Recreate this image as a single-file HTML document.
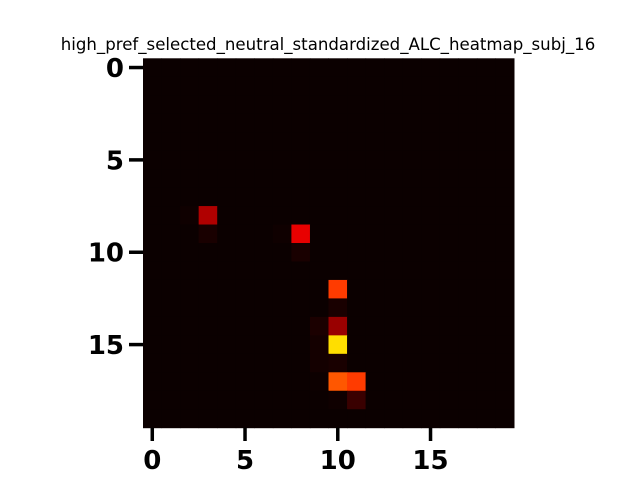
<!DOCTYPE html>
<html><head><meta charset="utf-8"><style>
body{margin:0;background:#fff;width:640px;height:480px;overflow:hidden}
svg text{font-family:"DejaVu Sans","Liberation Sans",sans-serif}
</style></head><body>
<svg id="chart" width="640" height="480" xmlns="http://www.w3.org/2000/svg">
<text x="328" y="50" text-anchor="middle" font-size="16.6">high_pref_selected_neutral_standardized_ALC_heatmap_subj_16</text>
<g id="cells"></g>
<g id="axes"></g>
</svg>
<script>
const rowLabels = [0,1,2,3,4,5,6,7,8,9,10,11,12,13,14,15,16,17,18,19];
const colLabels = [0,1,2,3,4,5,6,7,8,9,10,11,12,13,14,15,16,17,18,19];
const tickValues = [0,5,10,15];
const cellRows = [];
const sparseEntries = [
 [8,3,0.247],[9,3,0.022],[8,2,0.007],
 [9,8,0.331],[10,8,0.022],[9,7,0.007],
 [12,10,0.45],[13,10,0.022],[14,10,0.213],[14,9,0.025],
 [15,10,0.683],[15,9,0.014],[16,9,0.014],[16,10,0.022],
 [17,10,0.49],[17,11,0.45],[18,11,0.07],[18,10,0.007],[17,9,0.004]
];
for (let r=0;r<20;r++){cellRows.push(new Array(20).fill(0));}
sparseEntries.forEach(e=>{cellRows[e[0]][e[1]]=e[2];});

const X0=143, X1=514, Y0=58.3, Y1=427.7;
const cw=(X1-X0)/colLabels.length, ch=(Y1-Y0)/rowLabels.length;
const xPos=c=>X0+c*cw, yPos=r=>Y0+r*ch;
function hot(v){
  const x=Math.max(0,Math.min(1,v));
  const r=Math.min(1,0.0416+x/0.365*0.9584);
  const g=Math.max(0,Math.min(1,(x-0.365)/0.365));
  const b=Math.max(0,Math.min(1,(x-0.73)/0.27));
  return `rgb(${Math.round(r*255)},${Math.round(g*255)},${Math.round(b*255)})`;
}
const NS="http://www.w3.org/2000/svg";
const cells=document.getElementById('cells');
cellRows.forEach((row,r)=>row.forEach((v,c)=>{
  const el=document.createElementNS(NS,'rect');
  el.setAttribute('x',xPos(c));el.setAttribute('y',yPos(r));
  el.setAttribute('width',cw+0.5);el.setAttribute('height',ch+0.5);
  el.setAttribute('fill',hot(v));
  
  
  cells.appendChild(el);
}));
const axes=document.getElementById('axes');
tickValues.forEach(t=>{
  const y=yPos(t)+ch/2;
  const ln=document.createElementNS(NS,'line');
  ln.setAttribute('x1',129);ln.setAttribute('x2',X0);ln.setAttribute('y1',y);ln.setAttribute('y2',y);
  ln.setAttribute('stroke','#000');ln.setAttribute('stroke-width',3.5);
  
  
  axes.appendChild(ln);
  const tx=document.createElementNS(NS,'text');
  tx.setAttribute('x',124);tx.setAttribute('y',y+9.5);tx.setAttribute('text-anchor','end');
  tx.setAttribute('font-size',26);tx.setAttribute('font-weight','bold');tx.textContent=t;
  
  
  axes.appendChild(tx);
  const x=xPos(t)+cw/2;
  const l2=document.createElementNS(NS,'line');
  l2.setAttribute('x1',x);l2.setAttribute('x2',x);l2.setAttribute('y1',Y1);l2.setAttribute('y2',441);
  l2.setAttribute('stroke','#000');l2.setAttribute('stroke-width',3.5);
  
  
  axes.appendChild(l2);
  const t2=document.createElementNS(NS,'text');
  t2.setAttribute('x',x);t2.setAttribute('y',469);t2.setAttribute('text-anchor','middle');
  t2.setAttribute('font-size',26);t2.setAttribute('font-weight','bold');t2.textContent=t;
  
  
  axes.appendChild(t2);
});
</script>
</body></html>
